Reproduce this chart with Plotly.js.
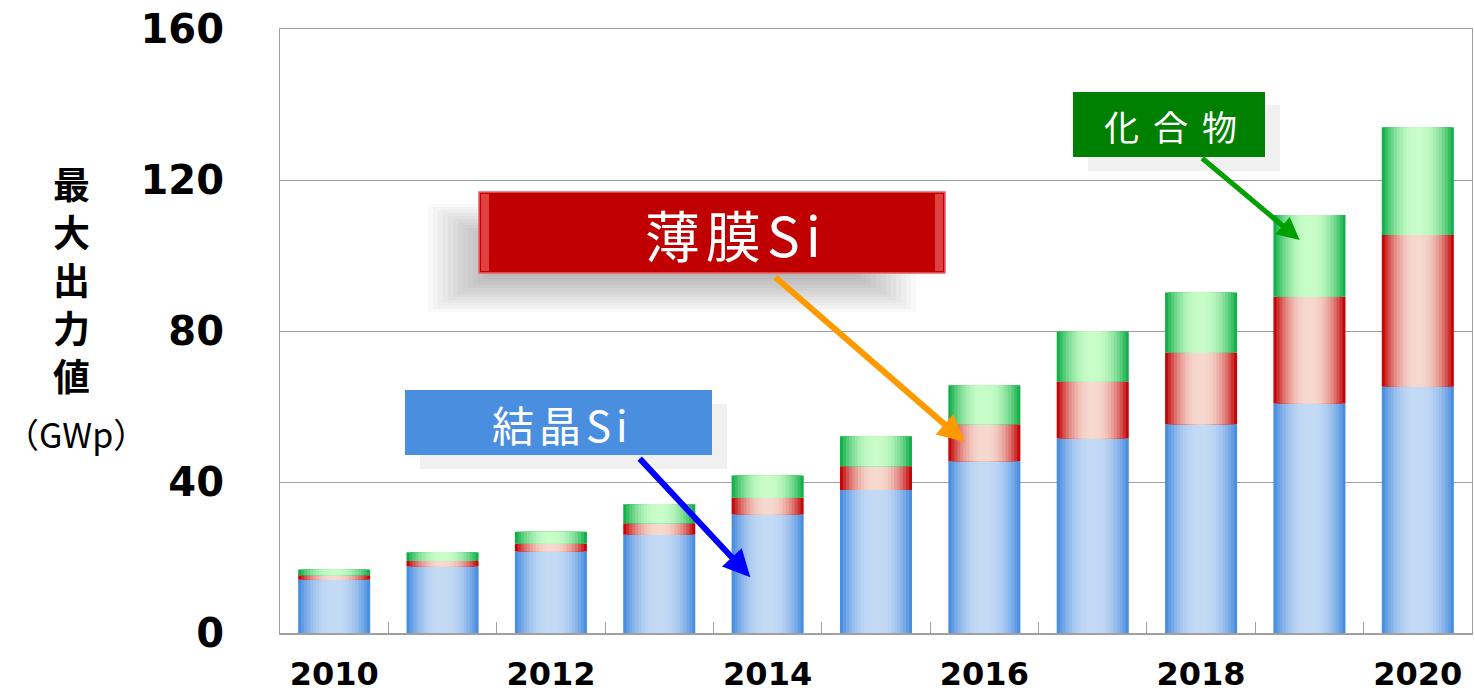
<!DOCTYPE html>
<html>
<head>
<meta charset="utf-8">
<script src="https://cdn.plot.ly/plotly-3.0.1.min.js"></script>
<style>
    html, body { margin: 0; padding: 0; background: #fff; }
    #graph { width: 1475px; height: 694px; }
    /* letter spacing of the callout labels (annotation order below) */
    g.annotation[data-index="2"] text { letter-spacing: 5px; }
    g.annotation[data-index="3"] text { letter-spacing: 6px; }
    g.annotation[data-index="4"] text { letter-spacing: 14px; }
</style>
</head>
<body>
<div id="graph"></div>
<script>
// *********************************************************************************************
// DATA

const YEARS = ['2010', '2011', '2012', '2013', '2014', '2015', '2016', '2017', '2018', '2019', '2020'];
const X_TICK_TEXT = ['2010', '', '2012', '', '2014', '', '2016', '', '2018', '', '2020'];

const CRYSTAL_SI = [14.1, 17.6, 21.6, 26.0, 31.4, 37.9, 45.5, 51.5, 55.3, 60.8, 65.2];
const THIN_FILM_SI = [1.2, 1.5, 2.1, 3.1, 4.4, 6.3, 9.8, 15.1, 19.0, 28.3, 40.2];
const COMPOUND = [1.5, 2.3, 3.1, 5.0, 5.9, 7.9, 10.3, 13.3, 15.9, 21.6, 28.6];

const Y_TICKS = [0, 40, 80, 120, 160];


// *********************************************************************************************
// HELPERS

const W = 1475, H = 694;
const M = { l: 280, r: 3, t: 29, b: 61 };
const PW = W - M.l - M.r, PH = H - M.t - M.b;

// pixel -> paper coords (for callout boxes only)
const px = (x) => (x - M.l) / PW;
const py = (y) => (H - M.b - y) / PH;

const mix = (a, b, t) => {
    const c = a.map((v, i) => Math.round(v + (b[i] - v) * t));
    return `rgb(${c[0]},${c[1]},${c[2]})`;
};

const BAR_W = 0.665;
const STEPS = 12;

// horizontal gradient: stacked overlay bars, each narrower and lighter
const gradientBars = (values, bases, edge, center) => {
    let out = [];
    for (let k = 0; k < STEPS; k++) {
        const t = k / (STEPS - 1);
        const f = 1 - Math.pow(1 - t, 2.2);
        out.push({
            type: 'bar',
            x: YEARS,
            y: values,
            base: bases,
            width: BAR_W * (1 - k / STEPS),
            marker: { color: mix(edge, center, f), line: { width: 0 } },
            hoverinfo: 'skip',
            showlegend: false
        });
    }
    return out;
};

const base1 = YEARS.map(() => 0);
const base2 = CRYSTAL_SI.slice();
const base3 = CRYSTAL_SI.map((v, i) => v + THIN_FILM_SI[i]);

let data = [
    ...gradientBars(CRYSTAL_SI, base1, [74, 142, 224], [196, 218, 244]),
    ...gradientBars(THIN_FILM_SI, base2, [196, 8, 10], [246, 216, 206]),
    ...gradientBars(COMPOUND, base3, [20, 176, 76], [200, 252, 200])
];


// *********************************************************************************************
// CALLOUTS

const rect = (x0, y0, x1, y1, fill, extra) => Object.assign({
    type: 'rect', xref: 'paper', yref: 'paper', layer: 'above',
    x0: px(x0), x1: px(x1), y0: py(y1), y1: py(y0),
    fillcolor: fill, line: { width: 0 }
}, extra || {});

let shapes = [
    // 結晶Si
    rect(420, 404, 727, 469, '#f0f0f0'),
    rect(405, 390, 712, 455, '#4a8fdf'),
    // 化合物
    rect(1088, 105, 1280, 171, '#f0f0f0'),
    rect(1073, 92, 1265, 157, '#008000')
];

// blurred shadow for 薄膜Si
for (let i = 0; i < 14; i++) {
    shapes.push(rect(428 + i * 5, 204 + i * 3, 916 - i * 5, 312 - i * 3, 'rgba(0,0,0,0.024)'));
}
shapes.push(rect(479, 192, 945, 273, '#c00000', { line: { color: '#f06060', width: 1.5 } }));
shapes.push(rect(481, 194, 489, 271, '#e04040'));
shapes.push(rect(935, 194, 943, 271, '#e04040'));

const CJK = '"Noto Sans CJK JP", "Noto Sans", sans-serif';

const label = (x, y, text, size, color) => ({
    xref: 'paper', yref: 'paper', x: px(x), y: py(y),
    xanchor: 'center', yanchor: 'middle',
    text: text, showarrow: false,
    font: { family: CJK, size: size, color: color }
});

const arrow = (x, y, ax, ay, color, width) => ({
    x: x, y: y, xref: 'x', yref: 'y', text: '',
    showarrow: true, arrowhead: 2, arrowsize: 0.9, arrowwidth: width,
    arrowcolor: color, ax: ax, ay: ay, standoff: 0
});

let annotations = [
    // axis title (indices 0-1)
    label(71, 279, '<b>最<br>大<br>出<br>力<br>値</b>', 37, '#000'),
    label(76, 433, '（GWp）', 34, '#000'),
    // box labels (indices 2-4)
    label(562, 423, '結晶Si', 42, '#fff'),
    label(736, 233, '薄膜Si', 55, '#fff'),
    label(1177, 126, '化合物', 35, '#fff'),
    // arrows
    arrow(3.84, 14.8, -112, -120, '#0000ff', 6),
    arrow(5.82, 50.6, -191, -166, '#ff9900', 6),
    arrow(8.91, 104.1, -99, -83, '#00a000', 5)
];


// *********************************************************************************************
// LAYOUT

let layout = {
    width: W,
    height: H,
    margin: M,
    paper_bgcolor: '#fff',
    plot_bgcolor: '#fff',
    barmode: 'overlay',
    showlegend: false,
    hovermode: false,
    font: { family: '"DejaVu Sans", sans-serif', color: '#000' },

    xaxis: {
        type: 'category',
        categoryorder: 'array',
        categoryarray: YEARS,
        range: [-0.5, YEARS.length - 0.5],
        tickmode: 'array',
        tickvals: YEARS,
        ticktext: X_TICK_TEXT,
        tickson: 'boundaries',
        ticks: 'inside',
        ticklen: 11,
        tickwidth: 1,
        tickcolor: '#a0a0a0',
        ticklabelstandoff: 12,
        tickfont: { family: '"DejaVu Sans", sans-serif', size: 32, weight: 'bold', color: '#000' },
        showgrid: false,
        showline: true,
        linecolor: '#a0a0a0',
        linewidth: 1.5,
        mirror: true,
        zeroline: false
    },
    yaxis: {
        range: [0, 160],
        tickmode: 'array',
        tickvals: Y_TICKS,
        ticktext: Y_TICKS.map(String),
        ticks: '',
        ticklabelstandoff: 47,
        tickfont: { family: '"DejaVu Sans", sans-serif', size: 40, weight: 'bold', color: '#000' },
        showgrid: true,
        gridcolor: '#a0a0a0',
        gridwidth: 1,
        showline: true,
        linecolor: '#a0a0a0',
        linewidth: 1,
        mirror: true,
        zeroline: false
    },
    shapes: shapes,
    annotations: annotations
};


// *********************************************************************************************
// CONFIG

const config = {
    displaylogo: false,
    displayModeBar: false,
    staticPlot: true
};

// *********************************************************************************************
// CREATE

Plotly.newPlot('graph', data, layout, config);
</script>
</body>
</html>
